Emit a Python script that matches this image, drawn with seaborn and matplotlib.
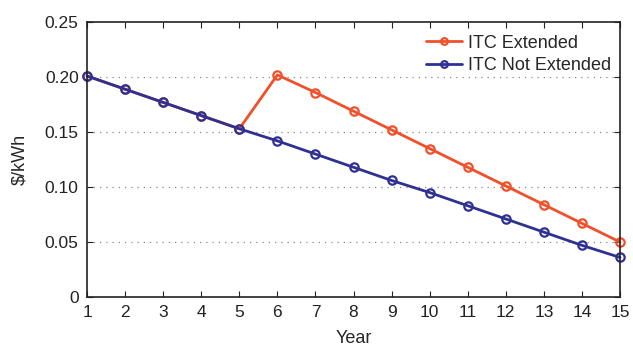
import matplotlib
matplotlib.use("Agg")
import matplotlib.pyplot as plt
import seaborn as sns
import pandas as pd

years = list(range(1, 16))
itc_extended = [0.201, 0.189, 0.177, 0.165, 0.153, 0.202, 0.186, 0.169, 0.152,
                0.135, 0.118, 0.101, 0.084, 0.067, 0.050]
itc_not_extended = [0.201, 0.189, 0.177, 0.165, 0.153, 0.142, 0.130, 0.118, 0.106,
                    0.095, 0.083, 0.071, 0.059, 0.047, 0.036]
series_names = ["ITC Extended", "ITC Not Extended"]
y_ticks = [0, 0.05, 0.10, 0.15, 0.20, 0.25]
y_tick_labels = ["0", "0.05", "0.10", "0.15", "0.20", "0.25"]

df = pd.DataFrame({
    "Year": years * 2,
    "value": itc_extended + itc_not_extended,
    "series": [series_names[0]] * len(years) + [series_names[1]] * len(years),
})

sns.set_theme(style="ticks")
plt.rcParams["font.family"] = ["Liberation Sans", "DejaVu Sans"]

fig = plt.figure(figsize=(6.33, 3.46), dpi=100)
ax = fig.add_axes([0.1375, 0.1416, 0.842, 0.7944])

palette = {series_names[0]: "#F0502A", series_names[1]: "#2E3192"}
sns.lineplot(data=df, x="Year", y="value", hue="series", palette=palette,
             marker="o", markersize=6, markerfacecolor="none",
             linewidth=2, ax=ax, legend=True)
for ln in ax.lines:
    ln.set_markeredgecolor(ln.get_color())
    ln.set_markeredgewidth(1.6)
    ln.set_markerfacecolor("none")
    ln.set_clip_on(False)

ax.set_xlim(1, 15)
ax.set_ylim(0, 0.25)
ax.set_xticks(years)
ax.set_yticks(y_ticks)
ax.set_yticklabels(y_tick_labels)
ax.tick_params(direction="in", top=True, right=True, labelsize=12.5, length=4,
               width=0.8, pad=6, colors="#222222")
for s in ax.spines.values():
    s.set_linewidth(1.2)
    s.set_color("#222222")
ax.set_xlabel("Year", fontsize=13, labelpad=7)
ax.set_ylabel("$/kWh", fontsize=13, labelpad=12)
for yv in y_ticks[1:-1]:
    ax.axhline(yv, color="#888888", linestyle=(0, (1, 4)), linewidth=0.9, zorder=0)

handles, labels = ax.get_legend_handles_labels()
for h in handles:
    h.set_markeredgecolor(h.get_color())
    h.set_markerfacecolor("none")
    h.set_markeredgewidth(1.6)
leg = ax.legend(handles, labels, loc="upper right", bbox_to_anchor=(1.0, 0.987),
                frameon=False, fontsize=13,
                handlelength=2.0, borderaxespad=0.1, labelspacing=0.3,
                handletextpad=0.3, markerscale=0.8)

fig.savefig("out.png", dpi=100)
